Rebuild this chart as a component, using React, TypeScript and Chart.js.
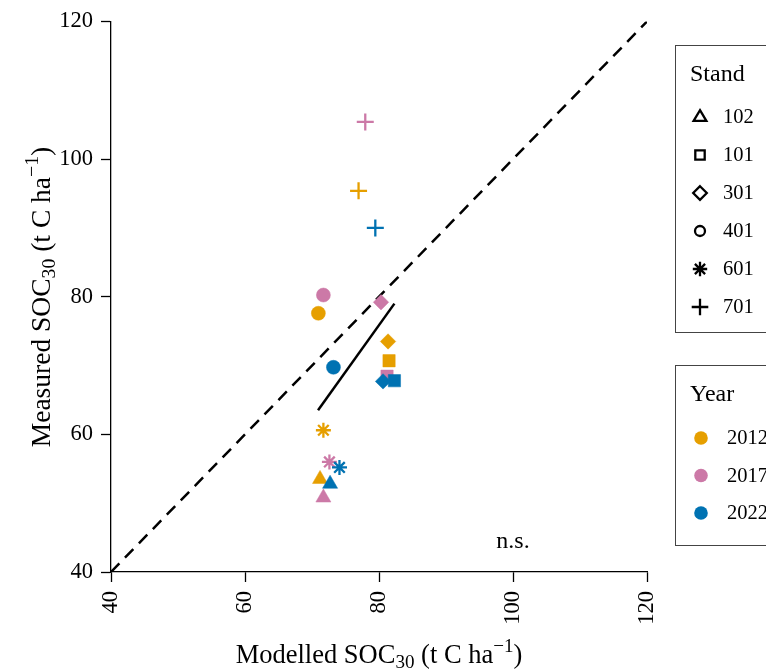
import { useEffect, useRef } from 'react';
import { Chart, registerables } from 'chart.js';

Chart.register(...registerables);

// ---- data ----
const standLabels = ['102', '101', '301', '401', '601', '701'];
const standShapes = ['triangle', 'rect', 'rectRot', 'circle', 'star', 'cross'];
const yearLabels = ['2012', '2017', '2022'];
const yearColors = ['#E69F00', '#CC79A7', '#0072B2'];

// values ordered by stand: 102, 101, 301, 401, 601, 701
const modelled2012 = [71.2, 81.5, 81.35, 70.95, 71.7, 76.95];
const measured2012 = [53.5, 70.7, 73.5, 77.6, 60.6, 95.4];
const modelled2017 = [71.7, 81.2, 80.3, 71.7, 72.6, 77.95];
const measured2017 = [50.8, 68.45, 79.2, 80.25, 56.0, 105.4];
const modelled2022 = [72.7, 82.3, 80.6, 73.2, 74.1, 79.45];
const measured2022 = [52.8, 67.8, 67.7, 69.75, 55.2, 90.0];

const oneToOneX = [40, 120];
const oneToOneY = [40, 120];
const fitX = [70.9, 82.3];
const fitY = [63.5, 79.0];

const xTicks = [40, 60, 80, 100, 120];
const yTicks = [40, 60, 80, 100, 120];
const significanceLabel = 'n.s.';

const FONT = "'Liberation Serif', 'Times New Roman', serif";

const shapeRadius: Record<string, number> = {
  triangle: 8.7,
  rect: 8.7,
  rectRot: 7.7,
  circle: 7,
  star: 7.5,
  cross: 8.5,
};
const isLineShape = (s: string) => s === 'star' || s === 'cross';

function yearDataset(i: number, xs: number[], ys: number[]) {
  const c = yearColors[i];
  return {
    type: 'scatter' as const,
    label: yearLabels[i],
    data: xs.map((x, k) => ({ x, y: ys[k] })),
    pointStyle: standShapes as any,
    pointRadius: standShapes.map((s) => shapeRadius[s]),
    pointBorderWidth: standShapes.map((s) => (isLineShape(s) ? 2.3 : 0.5)),
    backgroundColor: c,
    borderColor: c,
    order: 3 - i,
  };
}

type Part = { t: string; size: number; dy: number };

function drawRich(ctx: CanvasRenderingContext2D, parts: Part[], cx: number, baseY: number) {
  let total = 0;
  for (const p of parts) {
    ctx.font = `${p.size}px ${FONT}`;
    total += ctx.measureText(p.t).width;
  }
  let x = cx - total / 2;
  ctx.textAlign = 'left';
  ctx.textBaseline = 'alphabetic';
  for (const p of parts) {
    ctx.font = `${p.size}px ${FONT}`;
    ctx.fillText(p.t, x, baseY + p.dy);
    x += ctx.measureText(p.t).width;
  }
}

function titleParts(main: string, size: number): Part[] {
  const sub = size * 0.72;
  return [
    { t: main + ' SOC', size, dy: 0 },
    { t: '30', size: sub, dy: size * 0.19 },
    { t: ' (t C ha', size, dy: 0 },
    { t: '\u22121', size: sub, dy: -size * 0.42 },
    { t: ')', size, dy: 0 },
  ];
}

function drawOpenSymbol(ctx: CanvasRenderingContext2D, shape: string, x: number, y: number) {
  ctx.save();
  ctx.strokeStyle = '#000';
  ctx.lineWidth = 2.3;
  ctx.beginPath();
  if (shape === 'triangle') {
    const r = 6.8;
    ctx.moveTo(x, y - r);
    ctx.lineTo(x + r * 0.866 + 0.5, y + r * 0.5 + 0.5);
    ctx.lineTo(x - r * 0.866 - 0.5, y + r * 0.5 + 0.5);
    ctx.closePath();
  } else if (shape === 'rect') {
    ctx.rect(x - 4.7, y - 4.7, 9.4, 9.4);
  } else if (shape === 'rectRot') {
    const r = 6.8;
    ctx.moveTo(x, y - r);
    ctx.lineTo(x + r, y);
    ctx.lineTo(x, y + r);
    ctx.lineTo(x - r, y);
    ctx.closePath();
  } else if (shape === 'circle') {
    ctx.arc(x, y, 5, 0, Math.PI * 2);
  } else if (shape === 'star') {
    const r = 7.2;
    const d = r * Math.SQRT1_2;
    ctx.moveTo(x - r, y); ctx.lineTo(x + r, y);
    ctx.moveTo(x, y - r); ctx.lineTo(x, y + r);
    ctx.moveTo(x - d, y - d); ctx.lineTo(x + d, y + d);
    ctx.moveTo(x - d, y + d); ctx.lineTo(x + d, y - d);
  } else if (shape === 'cross') {
    const r = 8.3;
    ctx.moveTo(x - r, y); ctx.lineTo(x + r, y);
    ctx.moveTo(x, y - r); ctx.lineTo(x, y + r);
  }
  ctx.stroke();
  ctx.restore();
}

const decorPlugin = {
  id: 'decor',
  afterDraw(chart: any) {
    const ctx: CanvasRenderingContext2D = chart.ctx;
    const { left, right } = chart.chartArea;
    ctx.save();
    ctx.fillStyle = '#000';

    // x-axis title
    drawRich(ctx, titleParts('Modelled', 26.5), (left + right) / 2, 663);

    // y-axis title
    ctx.save();
    ctx.translate(50, 297);
    ctx.rotate(-Math.PI / 2);
    drawRich(ctx, titleParts('Measured', 27.5), 0, 0);
    ctx.restore();

    // n.s.
    ctx.font = `24px ${FONT}`;
    ctx.textAlign = 'center';
    ctx.textBaseline = 'alphabetic';
    ctx.fillText(significanceLabel, chart.scales.x.getPixelForValue(100), 548);

    // Stand legend
    ctx.strokeStyle = '#444';
    ctx.lineWidth = 1;
    ctx.strokeRect(675.5, 45.5, 200, 287);
    ctx.font = `24px ${FONT}`;
    ctx.textAlign = 'left';
    ctx.fillText('Stand', 690, 81);
    ctx.font = `20.5px ${FONT}`;
    ctx.textBaseline = 'middle';
    standLabels.forEach((lab, i) => {
      const yy = 117 + i * 38;
      drawOpenSymbol(ctx, standShapes[i], 700, yy);
      ctx.fillStyle = '#000';
      ctx.fillText(lab, 723, yy + 1);
    });

    // Year legend
    ctx.strokeRect(675.5, 365.5, 200, 180);
    ctx.font = `24px ${FONT}`;
    ctx.textBaseline = 'alphabetic';
    ctx.fillText('Year', 690, 401);
    ctx.font = `20.5px ${FONT}`;
    ctx.textBaseline = 'middle';
    yearLabels.forEach((lab, i) => {
      const yy = 438 + i * 37.5;
      ctx.beginPath();
      ctx.fillStyle = yearColors[i];
      ctx.arc(701, yy, 6.8, 0, Math.PI * 2);
      ctx.fill();
      ctx.fillStyle = '#000';
      ctx.fillText(lab, 727, yy + 1);
    });

    ctx.restore();
  },
};

export default function App() {
  const ref = useRef<HTMLCanvasElement | null>(null);

  useEffect(() => {
    document.body.style.margin = '0';
    const canvas = ref.current;
    if (!canvas) return;

    const tickFont = { family: FONT, size: 22.5 };

    const chart = new Chart(canvas, {
      type: 'scatter',
      data: {
        datasets: [
          {
            type: 'line',
            label: '1:1',
            data: oneToOneX.map((x, k) => ({ x, y: oneToOneY[k] })),
            borderColor: '#000',
            borderWidth: 2.5,
            borderDash: [12, 8],
            pointRadius: 0,
            fill: false,
            order: 6,
          } as any,
          {
            type: 'line',
            label: 'fit',
            data: fitX.map((x, k) => ({ x, y: fitY[k] })),
            borderColor: '#000',
            borderWidth: 2.5,
            pointRadius: 0,
            fill: false,
            order: 5,
          } as any,
          yearDataset(0, modelled2012, measured2012),
          yearDataset(1, modelled2017, measured2017),
          yearDataset(2, modelled2022, measured2022),
        ],
      },
      options: {
        responsive: false,
        animation: false,
        devicePixelRatio: 1,
        layout: { padding: { left: 0, top: 18, right: 119, bottom: 0 } },
        plugins: {
          legend: { display: false },
          tooltip: { enabled: false },
          title: { display: false },
        },
        scales: {
          x: {
            type: 'linear',
            min: 40,
            max: 120,
            afterBuildTicks: (axis: any) => {
              axis.ticks = xTicks.map((v) => ({ value: v }));
            },
            afterFit: (axis: any) => {
              axis.height = 99;
            },
            ticks: {
              font: tickFont,
              color: '#000',
              minRotation: 90,
              maxRotation: 90,
              padding: 9,
              callback: (v: any) => String(v),
            },
            grid: {
              display: true,
              drawOnChartArea: false,
              drawTicks: true,
              tickLength: 10,
              tickWidth: 1.3,
              tickColor: '#000',
            },
            border: { display: true, color: '#000', width: 1.3 },
          },
          y: {
            type: 'linear',
            min: 40,
            max: 120,
            afterBuildTicks: (axis: any) => {
              axis.ticks = yTicks.map((v) => ({ value: v }));
            },
            afterFit: (axis: any) => {
              axis.width = 111;
            },
            ticks: {
              font: tickFont,
              color: '#000',
              padding: 8,
              callback: (v: any) => String(v),
            },
            grid: {
              display: true,
              drawOnChartArea: false,
              drawTicks: true,
              tickLength: 10,
              tickWidth: 1.3,
              tickColor: '#000',
            },
            border: { display: true, color: '#000', width: 1.3 },
          },
        },
      },
      plugins: [decorPlugin],
    });

    return () => chart.destroy();
  }, []);

  return (
    <canvas
      ref={ref}
      width={766}
      height={671}
      style={{ display: 'block', position: 'absolute', left: 0, top: 0, width: 766, height: 671 }}
    />
  );
}
